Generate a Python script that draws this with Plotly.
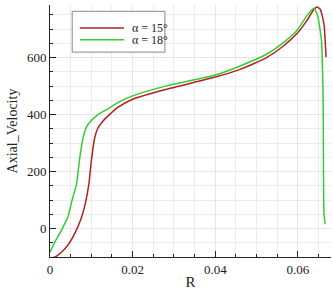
import plotly.graph_objects as go

r15 = [0.0, 0.0011, 0.0027, 0.0044, 0.006, 0.0076, 0.0085, 0.0094, 0.01, 0.0108, 0.0116, 0.0128,
       0.0144, 0.0165, 0.02, 0.0282, 0.04, 0.046, 0.0524, 0.0565, 0.06, 0.0621, 0.0638, 0.0646,
       0.0654, 0.0663, 0.0668]
v15 = [-103, -101, -84, -57, -17, 38, 85, 155, 237, 318, 353, 377,
       400, 426, 454, 489, 532, 559, 600, 641, 688, 729, 768, 778,
       770, 717, 602]

r18 = [0.0, 0.0011, 0.0027, 0.0044, 0.0053, 0.0064, 0.0072, 0.008, 0.0088, 0.01, 0.0116, 0.0136,
       0.0165, 0.02, 0.0282, 0.04, 0.046, 0.0524, 0.0565, 0.06, 0.0621, 0.0635, 0.0639, 0.0648,
       0.0657, 0.0661, 0.0663, 0.0666]
v18 = [-84, -49, -8, 44, 97, 155, 248, 318, 356, 379, 400, 417,
       443, 466, 501, 539, 571, 612, 653, 700, 746, 770, 774, 746,
       658, 448, 50, 15]

names = ["α = 15°", "α = 18°"]
colors = ["#b22222", "#33cc33"]

font = "Liberation Serif, Times New Roman, serif"

fig = go.Figure()
for r, v, c in [(r15, v15, colors[0]), (r18, v18, colors[1])]:
    fig.add_trace(go.Scatter(x=r, y=v, mode="lines", showlegend=False, hoverinfo="skip",
                             line=dict(color=c, width=1.5, shape="spline", smoothing=0.5)))

axis_common = dict(
    showgrid=True, gridcolor="#e6e6e6", gridwidth=1,
    showline=True, linecolor="#222", linewidth=1,
    ticks="inside", ticklen=6, tickcolor="#222",
    zeroline=False, mirror=False, automargin=False,
    tickfont=dict(family=font, size=13, color="#222"),
)
fig.update_xaxes(range=[0, 0.068], tickvals=[0, 0.02, 0.04, 0.06],
                 ticktext=["0", "0.02", "0.04", "0.06"],
                 minor=dict(dtick=0.005, showgrid=True, gridcolor="#ececec", ticks="inside", ticklen=3, tickcolor="#222"),
                 title=dict(text="R", font=dict(family=font, size=15, color="#222"), standoff=0),
                 **axis_common)
fig.update_yaxes(range=[-100, 785], tickvals=[0, 200, 400, 600],
                 minor=dict(dtick=50, tick0=0, showgrid=True, gridcolor="#ececec", ticks="inside", ticklen=3, tickcolor="#222"),
                 title=dict(text="Axial_Velocity", font=dict(family=font, size=14, color="#222"), standoff=6),
                 **axis_common)

# manual legend (paper coordinates)
fig.add_shape(type="rect", xref="paper", yref="paper", x0=0.079, x1=0.409, y0=0.813, y1=0.975,
              line=dict(color="#888", width=1), fillcolor="white", layer="above")
legend_y = [0.909, 0.862]
for name, c, ly in zip(names, colors, legend_y):
    fig.add_shape(type="line", xref="paper", yref="paper", x0=0.106, x1=0.263, y0=ly, y1=ly,
                  line=dict(color=c, width=1.5), layer="above")
    fig.add_annotation(xref="paper", yref="paper", x=0.283, y=ly, text=name, showarrow=False,
                       xanchor="left", yanchor="middle", font=dict(family=font, size=12, color="#222"))

fig.update_layout(
    width=333, height=290,
    margin=dict(l=50, r=2, t=5, b=33),
    paper_bgcolor="white", plot_bgcolor="white",
    font=dict(family=font, color="#222"),
    showlegend=False,
    hovermode=False,
)

fig.write_html("out.html", config={"displayModeBar": False, "staticPlot": True},
               post_script="document.body.style.margin='0';document.body.style.overflow='hidden';")
